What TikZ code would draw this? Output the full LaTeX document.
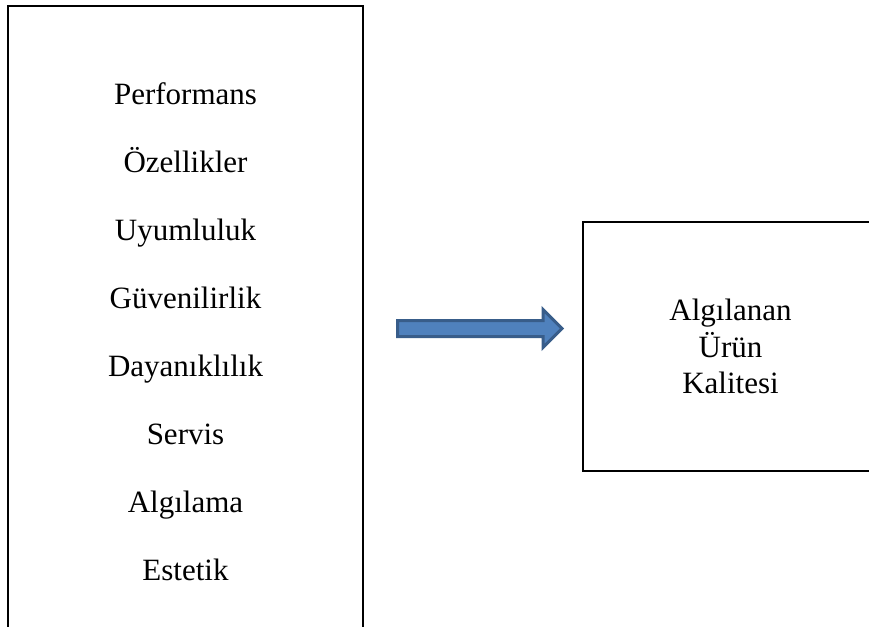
\documentclass[tikz,border=0pt]{standalone}
\usepackage{fontspec}
\setmainfont{Liberation Serif}
\usepackage{xcolor}
\usetikzlibrary{positioning}

\definecolor{arrowfill}{HTML}{4F81BD}
\definecolor{arrowline}{HTML}{385D8A}

\begin{document}
\begin{tikzpicture}[
  x=1pt, y=-1pt,
  frame/.style={
    draw, line width=1.8pt, inner sep=0pt
  },
  factor/.style={
    font=\fontsize{31}{36}\selectfont,
    text height=22pt, text depth=7pt, inner sep=0pt
  },
  result/.style={
    frame, minimum width=295pt, minimum height=249pt,
    align=center, font=\fontsize{31}{36.8}\selectfont
  },
  blockarrow/.style={fill=arrowfill, draw=arrowline, line width=3pt, line join=miter}
]
\clip (0,0) rectangle (869,626);

% --- Boyutlar (sol kutu) ---
\node[frame, minimum width=355pt, minimum height=660pt, anchor=north] (dims) at (185.5,5) {};

\node[factor, anchor=base] (perf) at (185.5,104) {Performans};
\node[factor, below=38.7pt of perf] (ozel) {Özellikler};
\node[factor, below=38.7pt of ozel] (uyum) {Uyumluluk};
\node[factor, below=38.7pt of uyum] (guven) {Güvenilirlik};
\node[factor, below=38.7pt of guven] (dayan) {Dayanıklılık};
\node[factor, below=38.7pt of dayan] (servis) {Servis};
\node[factor, below=38.7pt of servis] (algi) {Algılama};
\node[factor, below=38.7pt of algi] (estetik) {Estetik};

% --- Sonuç (sağ kutu) ---
\node[result] (quality) at (730.5,346.5) {Algılanan\\Ürün\\Kalitesi};

% --- Blok ok ---
\coordinate (tail) at (397.5,328.5);
\filldraw[blockarrow] (tail) ++(0,-8) -- ++(145.5,0) -- ++(0,-11) -- ++(19,19)
  -- ++(-19,19) -- ++(0,-11) -- ++(-145.5,0) -- cycle;

\end{tikzpicture}
\end{document}
